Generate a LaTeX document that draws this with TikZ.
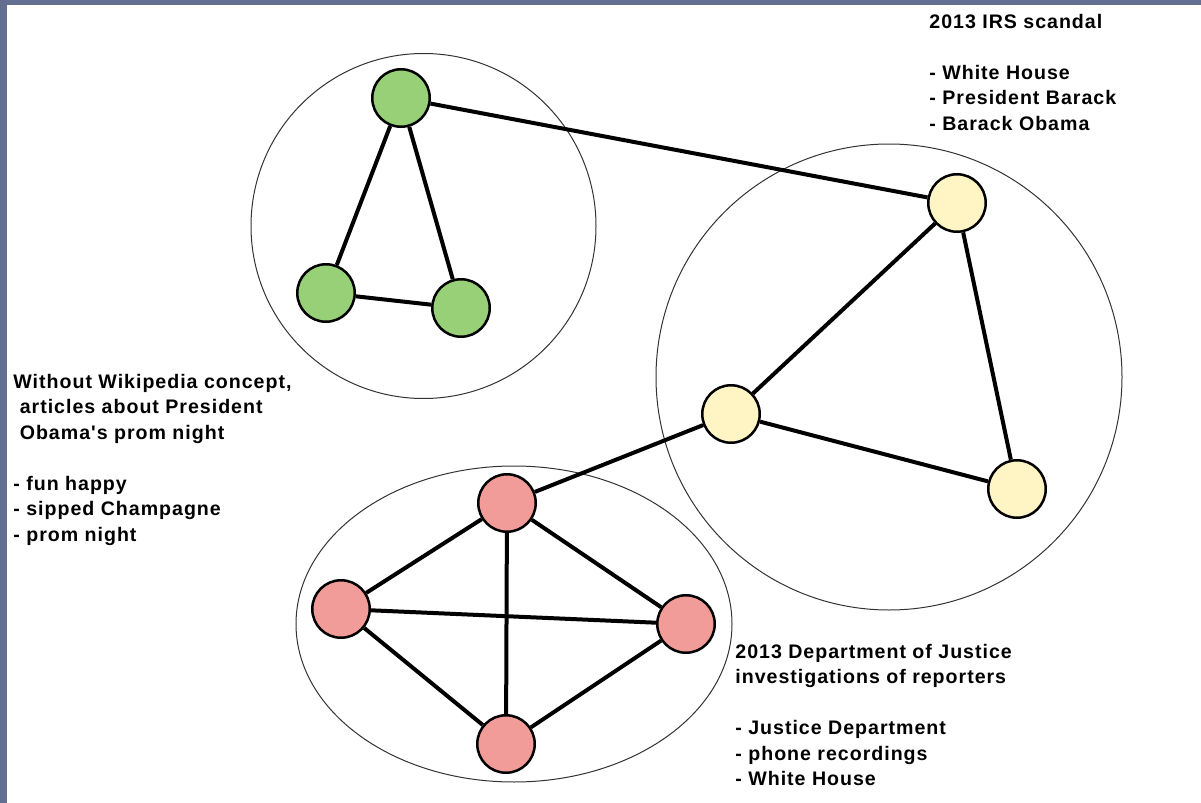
\documentclass[tikz,border=0pt]{standalone}
\usepackage{fontspec}
\newfontfamily\lblfont[LetterSpace=5]{Liberation Sans}
\definecolor{framec}{HTML}{646E91}
\definecolor{greenc}{HTML}{97D077}
\definecolor{yellowc}{HTML}{FFF4C3}
\definecolor{redc}{HTML}{F19C99}
\begin{document}
\begin{tikzpicture}[x=0.5pt,y=-0.5pt,
      vert/.style={circle,draw=black,line width=1.25pt,minimum size=28.75pt,inner sep=0pt},
      edge/.style={line width=2pt,black},
      group/.style={draw=black!80,line width=0.5pt},
      lbl/.style={anchor=north west,align=left,inner sep=0pt,
         font=\lblfont\bfseries\fontsize{9.8}{12.75}\selectfont}]
      \useasboundingbox (0,0) rectangle (1201,803);
      \fill[framec] (0,0) rectangle (1201,803);
      \fill[white] (7,5) rectangle (1201,803);

      \draw[group] (423.5,226) circle (86.25pt);
      \draw[group] (889,377) circle (116.5pt);
      \draw[group] (514,624) ellipse (109pt and 79pt);

      \node[vert,fill=greenc] (g1) at (401,98) {};
      \node[vert,fill=greenc] (g2) at (326,293) {};
      \node[vert,fill=greenc] (g3) at (461,308) {};

      \node[vert,fill=yellowc] (y1) at (957,203) {};
      \node[vert,fill=yellowc] (y2) at (731,414) {};
      \node[vert,fill=yellowc] (y3) at (1017,489) {};

      \node[vert,fill=redc] (r1) at (507,503) {};
      \node[vert,fill=redc] (r2) at (341,609) {};
      \node[vert,fill=redc] (r3) at (686,624) {};
      \node[vert,fill=redc] (r4) at (506,744) {};

      \draw[edge] (g1) -- (g2) -- (g3) -- (g1);
      \draw[edge] (g1) -- (y1);
      \draw[edge] (y1) -- (y2) -- (y3) -- (y1);
      \draw[edge] (y2) -- (r1);
      \draw[edge] (r1) -- (r2) -- (r4) -- (r3) -- (r1) -- (r4);
      \draw[edge] (r2) -- (r3);

      \node[lbl] (irs) at (929,13.7) {2013 IRS scandal\\[12.75pt]- White House\\- President Barack\\- Barack Obama};
      \node[lbl] (prom) at (13,373.7) {Without Wikipedia concept,\\\ articles about President\\\ Obama's prom night\\[12.75pt]- fun happy\\- sipped Champagne\\- prom night};
      \node[lbl] (doj) at (735,643.7) {2013 Department of Justice\\investigations of reporters\\[12.75pt]- Justice Department\\- phone recordings\\- White House};
   \end{tikzpicture}
\end{document}
